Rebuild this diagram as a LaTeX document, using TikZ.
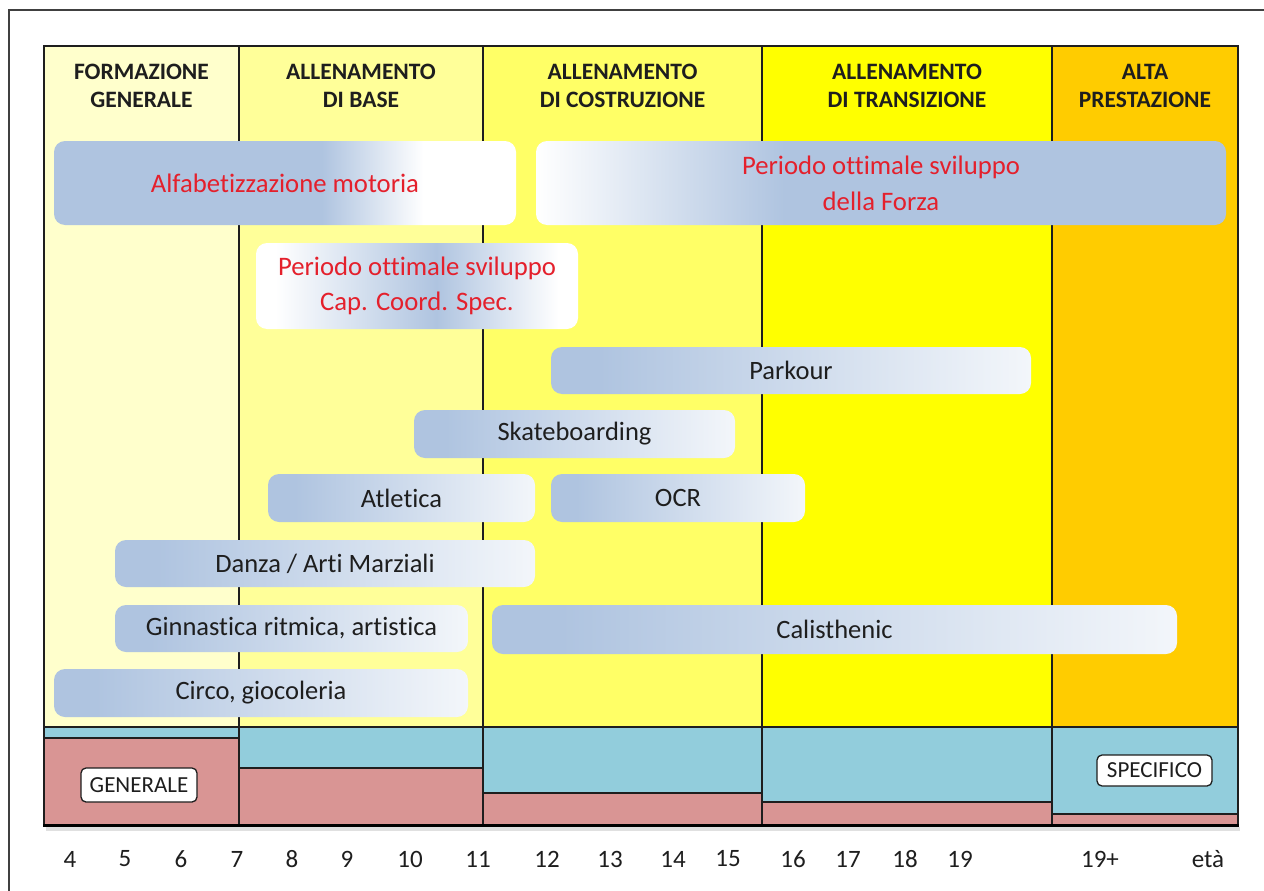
\documentclass[tikz,border=0pt]{standalone}
\usepackage{fontspec}
\setmainfont[Ligatures=NoCommon]{Carlito}
\definecolor{colA}{HTML}{FFFFCC}
\definecolor{colB}{HTML}{FFFF99}
\definecolor{colC}{HTML}{FFFF66}
\definecolor{colD}{HTML}{FFFF00}
\definecolor{colE}{HTML}{FFCC00}
\definecolor{bandblue}{HTML}{92CDDC}
\definecolor{bandpink}{HTML}{D99594}
\definecolor{barblue}{HTML}{AFC4E0}
\definecolor{barred}{HTML}{E4202C}
\definecolor{ink}{HTML}{1E1E1E}
% horizontal shadings: 25bp = left edge, 75bp = right edge of the shaded path
\pgfdeclarehorizontalshading{alfashade}{100bp}{color(0bp)=(barblue); color(54bp)=(barblue); color(65bp)=(white); color(100bp)=(white)}
\pgfdeclarehorizontalshading{forzashade}{100bp}{color(0bp)=(white); color(25bp)=(white); color(43bp)=(barblue); color(100bp)=(barblue)}
\pgfdeclarehorizontalshading{coordshade}{100bp}{color(0bp)=(white); color(28bp)=(white); color(53bp)=(barblue); color(72bp)=(white); color(100bp)=(white)}
\pgfdeclarehorizontalshading{linshade}{100bp}{color(0bp)=(barblue); color(30bp)=(barblue); color(75bp)=(white!85!barblue); color(100bp)=(white!85!barblue)}
\tikzset{
  bar/.style={rounded corners=11pt, inner sep=0pt, text=ink, font=\fontsize{26.5}{30}\selectfont},
  linbar/.style={bar, shade, shading=linshade},
  redtext/.style={text=barred, font=\fontsize{26.7}{36}\selectfont, align=center},
  head/.style={font=\bfseries\fontsize{23.5}{28}\selectfont, align=center, text=ink},
  divider/.style={line width=1.3pt, draw=ink},
  axislabel/.style={font=\fontsize{25}{28}\selectfont, text=ink},
  tag/.style={draw=ink, line width=1.3pt, fill=white, rounded corners=5pt, inner sep=0pt, font=\fontsize{23}{26}\selectfont, text=ink}
}
\begin{document}
\begin{tikzpicture}[x=1pt, y=-1pt]
\useasboundingbox (0,0) rectangle (1264,891);
\fill[white] (0,0) rectangle (1264,891);
% outer frame
\draw[line width=1.6pt, draw=black!75] (9,891) -- (9,10) -- (1264,10);

% phase columns
\fill[colA] (44,46) rectangle (239,727);
\fill[colB] (239,46) rectangle (483,727);
\fill[colC] (483,46) rectangle (762,727);
\fill[colD] (762,46) rectangle (1052,727);
\fill[colE] (1052,46) rectangle (1238,727);

% general / specific band
\fill[bandblue] (44,727) rectangle (1238,825);
\fill[bandpink] (44,738) rectangle (239,825);
\fill[bandpink] (239,768) rectangle (483,825);
\fill[bandpink] (483,793) rectangle (762,825);
\fill[bandpink] (762,802) rectangle (1052,825);
\fill[bandpink] (1052,814) rectangle (1238,825);
\draw[divider] (44,738) -- (239,738);
\draw[divider] (239,768) -- (483,768);
\draw[divider] (483,793) -- (762,793);
\draw[divider] (762,802) -- (1052,802);
\draw[divider] (1052,814) -- (1238,814);
\draw[divider] (44,727) -- (1238,727);

% column dividers and chart border
\foreach \xx in {239,483,762,1052} \draw[divider] (\xx,46) -- (\xx,825);
\draw[divider] (44,825) -- (44,46) -- (1238,46) -- (1238,825);
\fill[black!12] (46,827) rectangle (1240,831);
\draw[line width=3pt, draw=black] (43,825) -- (1239,825);

% phase titles
\node[head] (h1) at (141.5,86) {FORMAZIONE\\GENERALE};
\node[head] (h2) at (361,86) {ALLENAMENTO\\DI BASE};
\node[head] (h3) at (622.5,86) {ALLENAMENTO\\DI COSTRUZIONE};
\node[head] (h4) at (907,86) {ALLENAMENTO\\DI TRANSIZIONE};
\node[head] (h5) at (1145,86) {ALTA\\PRESTAZIONE};

% optimal windows
\node[bar, shade, shading=alfashade, minimum width=462pt, minimum height=84pt] (alfa) at (285,183) {};
\node[redtext] (alfat) at (alfa.center) {Alfabetizzazione motoria};
\node[bar, shade, shading=forzashade, minimum width=690pt, minimum height=84pt] (forza) at (881,183) {};
\node[redtext] (forzat) at (forza.center) {Periodo ottimale sviluppo\\della Forza};
\node[bar, shade, shading=coordshade, minimum width=322pt, minimum height=86pt] (coord) at (417,286) {};
\node[redtext, font=\fontsize{26.7}{35}\selectfont] (coordt) at (coord.center) {Periodo ottimale sviluppo\\Cap. Coord. Spec.};

% disciplines
\node[linbar, minimum width=480pt, minimum height=47pt] (parkour) at (791,370.5) {Parkour};
\node[linbar, minimum width=321pt, minimum height=48pt] (skate) at (574.5,434) {Skateboarding};
\node[linbar, minimum width=267pt, minimum height=48pt] (atletica) at (401.5,498) {Atletica};
\node[linbar, minimum width=254pt, minimum height=48pt] (ocr) at (678,498) {OCR};
\node[linbar, minimum width=420pt, minimum height=47pt] (danza) at (325,563.5) {Danza / Arti Marziali};
\node[linbar, minimum width=353pt, minimum height=47pt] (ginn) at (291.5,628.5) {Ginnastica ritmica, artistica};
\node[linbar, minimum width=685pt, minimum height=49pt] (cali) at (834.5,629.5) {Calisthenic};
\node[linbar, minimum width=414pt, minimum height=48pt] (circo) at (261,693) {Circo, giocoleria};

% band tags
\node[tag, minimum width=116pt, minimum height=34pt] (gen) at (139,785) {GENERALE};
\node[tag, minimum width=115pt, minimum height=31pt] (spec) at (1154.5,770.5) {SPECIFICO};

% age axis
\foreach \lab/\xx in {4/70,5/125,6/181,7/237,8/292,9/347,10/410,11/478,12/547,13/610,14/673,15/728,16/793,17/848,18/905,19/960,19+/1100,età/1208}
  \node[axislabel] (age-\lab) at (\xx,859) {\lab};
\end{tikzpicture}
\end{document}
